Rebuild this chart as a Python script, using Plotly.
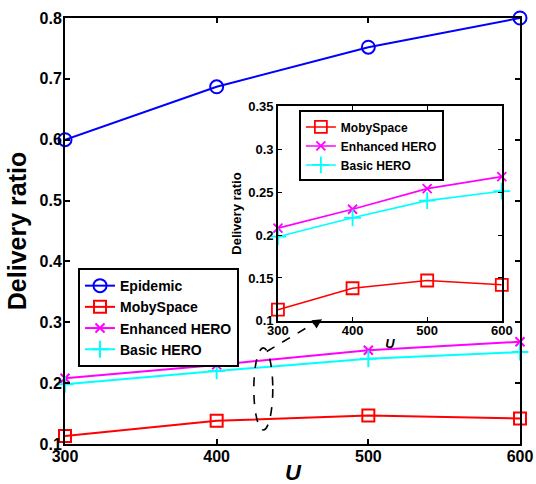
import plotly.graph_objects as go

# Number of nodes U and delivery ratio for each routing scheme
u_values = [300, 400, 500, 600]
epidemic = [0.600, 0.687, 0.752, 0.800]
mobyspace = [0.113, 0.138, 0.147, 0.142]
enhanced_hero = [0.208, 0.230, 0.254, 0.268]
basic_hero = [0.198, 0.220, 0.240, 0.251]

x_ticks = [300, 400, 500, 600]
main_y_ticks = [0.1, 0.2, 0.3, 0.4, 0.5, 0.6, 0.7, 0.8]
main_y_labels = ["0.1", "0.2", "0.3", "0.4", "0.5", "0.6", "0.7", "0.8"]
inset_y_ticks = [0.1, 0.15, 0.2, 0.25, 0.3, 0.35]
inset_y_labels = ["0.1", "0.15", "0.2", "0.25", "0.3", "0.35"]

FONT = "Liberation Sans, Arial, Helvetica, sans-serif"

series = [
    ("Epidemic", epidemic, "#0000FF", "circle-open", 13, False),
    ("MobySpace", mobyspace, "#FF0000", "square-open", 12, True),
    ("Enhanced HERO", enhanced_hero, "#FF00FF", "x-thin-open", 9, True),
    ("Basic HERO", basic_hero, "#00FFFF", "cross-thin-open", 12, True),
]

fig = go.Figure()

# Main panel
for name, vals, color, sym, size, _ in series:
    fig.add_trace(go.Scatter(
        x=u_values, y=vals, name=name, mode="lines+markers",
        line=dict(color=color, width=2),
        marker=dict(symbol=sym, size=size, color=color, line=dict(color=color, width=2)),
        xaxis="x", yaxis="y", legend="legend", cliponaxis=False,
    ))

# Zoomed inset of the lower curves
for name, vals, color, sym, size, in_inset in series:
    if not in_inset:
        continue
    fig.add_trace(go.Scatter(
        x=u_values, y=vals, name=name, mode="lines+markers",
        line=dict(color=color, width=1.6),
        marker=dict(symbol=sym, size=size, color=color, line=dict(color=color, width=1.8)),
        xaxis="x2", yaxis="y2", legend="legend2", cliponaxis=False,
    ))

axis_common = dict(
    showgrid=False, zeroline=False, showline=True, linecolor="black",
    mirror="ticks", ticks="inside", tickcolor="black", automargin=False,
)

fig.update_layout(
    width=536, height=484,
    margin=dict(l=65, r=16, t=18, b=40),
    paper_bgcolor="white", plot_bgcolor="white",
    font=dict(family=FONT, color="black"),
    xaxis=dict(
        **axis_common, domain=[0, 1], range=[300, 600], anchor="y",
        tickvals=x_ticks, linewidth=2, ticklen=5, tickwidth=1.5, ticklabelstandoff=-3,
        tickfont=dict(size=16, weight="bold"),
    ),
    yaxis=dict(
        **axis_common, domain=[0, 1], range=[0.1, 0.8], anchor="x",
        tickvals=main_y_ticks, ticktext=main_y_labels, linewidth=2, ticklen=5, tickwidth=1.5,
        ticklabelstandoff=-2,
        tickfont=dict(size=16, weight="bold"),
        title=dict(text="Delivery ratio", font=dict(size=25, weight="bold"), standoff=6),
    ),
    xaxis2=dict(
        **axis_common, domain=[0.468, 0.960], range=[300, 600], anchor="y2",
        tickvals=x_ticks, linewidth=1.6, ticklen=4, tickwidth=1.2, ticklabelstandoff=-3,
        tickfont=dict(size=13, weight="bold"),
        title=dict(text="U", font=dict(size=13, weight="bold", style="italic"), standoff=2),
    ),
    yaxis2=dict(
        **axis_common, domain=[0.289, 0.793], range=[0.1, 0.35], anchor="x2",
        tickvals=inset_y_ticks, ticktext=inset_y_labels, linewidth=1.6, ticklen=4, tickwidth=1.2,
        tickfont=dict(size=13, weight="bold"),
        title=dict(text="Delivery ratio", font=dict(size=13, weight="bold"), standoff=4),
    ),
    legend=dict(
        x=0.0286, y=0.413, xanchor="left", yanchor="top",
        bgcolor="white", bordercolor="black", borderwidth=2,
        font=dict(size=14, weight="bold"), tracegroupgap=0,
    ),
    legend2=dict(
        x=0.514, y=0.783, xanchor="left", yanchor="top",
        bgcolor="white", bordercolor="black", borderwidth=2,
        font=dict(size=12, weight="bold"), tracegroupgap=0,
    ),
)

# Main x-axis title, placed below the tick labels
fig.add_annotation(
    text="U", xref="paper", yref="paper", x=0.503, y=-0.068,
    xanchor="center", yanchor="middle", showarrow=False,
    font=dict(size=22, weight="bold", style="italic"),
)

# Dashed ellipse around the magnified region and dashed pointer to the inset
fig.add_shape(
    type="circle", xref="x", yref="y", x0=424.5, x1=437.0, y0=0.123, y1=0.258,
    line=dict(color="black", width=1.6, dash="dash"),
)
fig.add_shape(
    type="line", xref="x", yref="y", x0=433.0, y0=0.252, x1=466.0, y1=0.301,
    line=dict(color="black", width=1.6, dash="dash"),
)
fig.add_annotation(
    x=469.5, y=0.305, xref="x", yref="y", text="", showarrow=True,
    ax=-8, ay=5, arrowhead=2, arrowsize=1.2, arrowwidth=1.6, arrowcolor="black",
    standoff=0,
)

fig.write_html("out.html")
